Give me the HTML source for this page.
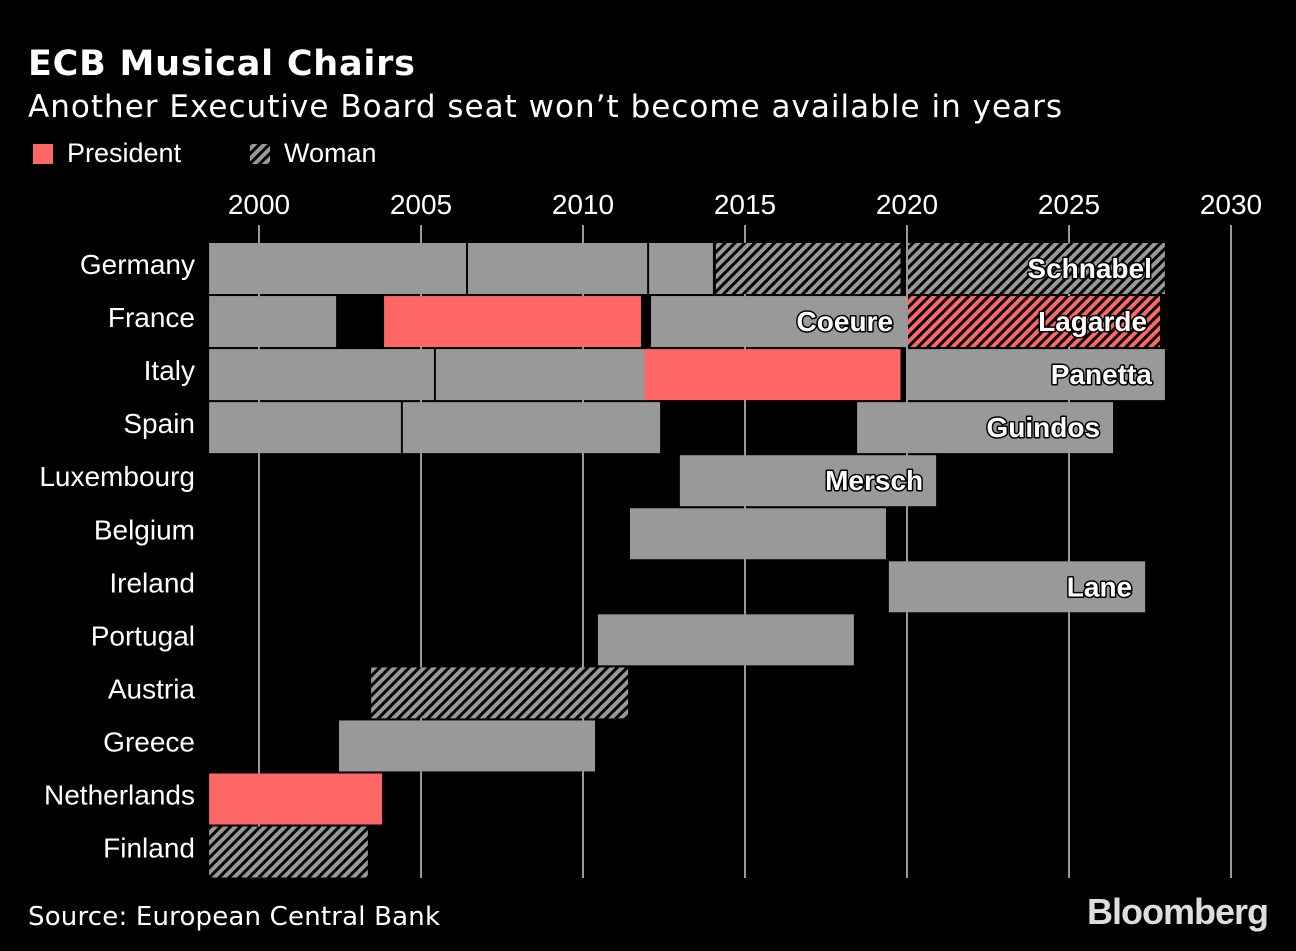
<!DOCTYPE html>
<html><head><meta charset="utf-8"><style>
body{margin:0;background:#000;width:1296px;height:946px;overflow:hidden;font-family:"Liberation Sans",sans-serif;color:#fff}
</style></head><body>
<svg width="1296" height="946">
<defs>
<pattern id="hg" patternUnits="userSpaceOnUse" width="7" height="7" patternTransform="rotate(45)"><rect width="7" height="7" fill="#000"/><rect width="4" height="7" fill="#999"/></pattern>
<pattern id="hr" patternUnits="userSpaceOnUse" width="7" height="7" patternTransform="rotate(45)"><rect width="7" height="7" fill="#000"/><rect width="4" height="7" fill="#f66"/></pattern>
</defs>
<text x="28" y="75" font-size="35" font-weight="bold" fill="#fff" font-family="DejaVu Sans, sans-serif" textLength="387">ECB Musical Chairs</text>
<text x="28" y="117" font-size="31" fill="#fff" font-family="DejaVu Sans, sans-serif" textLength="1034">Another Executive Board seat won’t become available in years</text>
<rect x="33" y="144" width="20" height="20" fill="#f66"/>
<text x="67" y="162" font-size="27" fill="#fff">President</text>
<rect x="250" y="144" width="20" height="20" fill="url(#hg)"/>
<text x="284" y="162" font-size="27" fill="#fff">Woman</text>
<g id="grid"></g><g id="bars"></g><g id="labels"></g>
<text x="28" y="925" font-size="26" fill="#fff" font-family="DejaVu Sans, sans-serif" textLength="412">Source: European Central Bank</text>
<text x="1268" y="924" font-size="36" font-weight="bold" fill="#ddd" text-anchor="end" letter-spacing="-1">Bloomberg</text>
</svg>
<script>
const ticks=[2000,2005,2010,2015,2020,2025,2030];
const countries=["Germany","France","Italy","Spain","Luxembourg","Belgium","Ireland","Portugal","Austria","Greece","Netherlands","Finland"];
const barStart=[1998.46,2006.45,2012.04,2014.1,2020.03, 1998.46,2003.86,2012.1,2020.03, 1998.46,2005.46,2011.9,2020.03, 1998.46,2004.44,2018.46, 2012.99,2011.45,2019.44,2010.46,2003.46,2002.47,1998.46,1998.46];
const barEnd=[2006.39,2011.98,2014.01,2019.8,2027.96, 2002.38,2011.79,2019.97,2027.81, 2005.4,2012.07,2019.8,2027.96, 2004.38,2012.38,2026.36, 2020.9,2019.35,2027.35,2018.36,2011.39,2010.37,2003.8,2003.36];
const barRow=[0,0,0,0,0,1,1,1,1,2,2,2,2,3,3,3,4,5,6,7,8,9,10,11];
const barType=["g","g","g","hg","hg","g","r","g","hr","g","g","r","g","g","g","g","g","g","g","g","hg","g","r","hg"];
const barLabel=["","","","","Schnabel","","","Coeure","Lagarde","","","","Panetta","","","Guindos","Mersch","","Lane","","","","",""];
const NS="http://www.w3.org/2000/svg";
const x=y=>259+(y-2000)*32.4;
const rowY=i=>243+i*53.05;
const mk=(t,a,p)=>{const e=document.createElementNS(NS,t);for(const k in a)e.setAttribute(k,a[k]);document.getElementById(p).appendChild(e);return e;};
ticks.forEach(t=>{
 const l=mk("line",{x1:x(t),x2:x(t),y1:225,y2:878,stroke:"#999","stroke-width":2},"grid");
 
 
 const tx=mk("text",{x:x(t),y:214,"font-size":28,fill:"#fff","text-anchor":"middle"},"grid");
 tx.textContent=t;
 
 
});
countries.forEach((c,i)=>{
 const t=mk("text",{x:195,y:rowY(i)+31,"font-size":28,fill:"#fff","text-anchor":"end"},"labels");
 t.textContent=c;
 
 
});
const fills={g:"#999",r:"#f66",hg:"url(#hg)",hr:"url(#hr)"};
barStart.forEach((s,i)=>{
 const x0=x(s),x1=x(barEnd[i]),y0=rowY(barRow[i]);
 const r=mk("rect",{x:x0,y:y0,width:x1-x0,height:51,fill:fills[barType[i]]},"bars");
 
 
 if(barLabel[i]){
  const t=mk("text",{x:x1-13,y:y0+35,"font-size":28,"font-weight":"bold",fill:"#fff","text-anchor":"end",stroke:"#000","stroke-width":3,"paint-order":"stroke","stroke-linejoin":"round"},"bars");
  t.textContent=barLabel[i];
  
  
 }
});
</script>
</body></html>
